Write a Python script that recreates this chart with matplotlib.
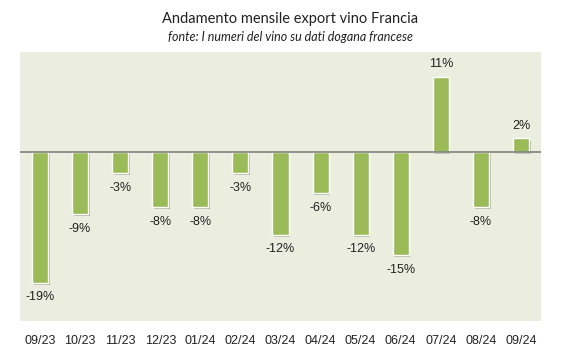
import numpy as np
import matplotlib
matplotlib.use('Agg')
import matplotlib.pyplot as plt
import matplotlib.patheffects as pe

# 데이터
mesi = ['09/23', '10/23', '11/23', '12/23', '01/24', '02/24', '03/24',
        '04/24', '05/24', '06/24', '07/24', '08/24', '09/24']
variazione = [-19, -9, -3, -8, -8, -3, -12, -6, -12, -15, 11, -8, 2]

BAR_COLOR = '#9BBB59'
BG_COLOR = '#EBEEDF'

fig = plt.figure(figsize=(5.8, 3.64), dpi=100)
ax = fig.add_axes([20 / 580, 1 - 321 / 364, 521 / 580, 269 / 364])
ax.set_facecolor(BG_COLOR)

x = np.arange(len(mesi))
bars = ax.bar(x, variazione, width=0.4, color=BAR_COLOR, edgecolor='white',
              linewidth=1.0, zorder=3)
for b in bars:
    b.set_path_effects([pe.SimplePatchShadow(offset=(1.2, -1.5), alpha=0.3),
                        pe.Normal()])

ax.axhline(0, color='#808080', linewidth=1.2, zorder=4)

for xi, v in zip(x, variazione):
    if v < 0:
        ax.text(xi, v - 1.3, f'{v}%', ha='center', va='top', fontsize=9,
                family='Liberation Sans', color='#222222')
    else:
        ax.text(xi, v + 1.0, f'{v}%', ha='center', va='bottom', fontsize=9,
                family='Liberation Sans', color='#222222')

ax.set_xlim(-0.5, len(mesi) - 0.5)
ax.set_ylim(-24.6, 14.6)
ax.set_yticks([])
ax.set_xticks(x)
ax.set_xticklabels(mesi, fontsize=9, family='Liberation Sans', color='#222222')
ax.tick_params(axis='x', length=0, pad=10)
for s in ax.spines.values():
    s.set_visible(False)

fig.text(290 / 580, 1 - 19 / 364, 'Andamento mensile export vino Francia',
         ha='center', va='center', fontsize=10.5, family='Lato', color='#222222')
fig.text(290 / 580, 1 - 37 / 364, 'fonte: I numeri del vino su dati dogana francese',
         ha='center', va='center', fontsize=9, family='Lato', style='italic',
         color='#222222')

fig.savefig('out.png', dpi=100, facecolor='white')
